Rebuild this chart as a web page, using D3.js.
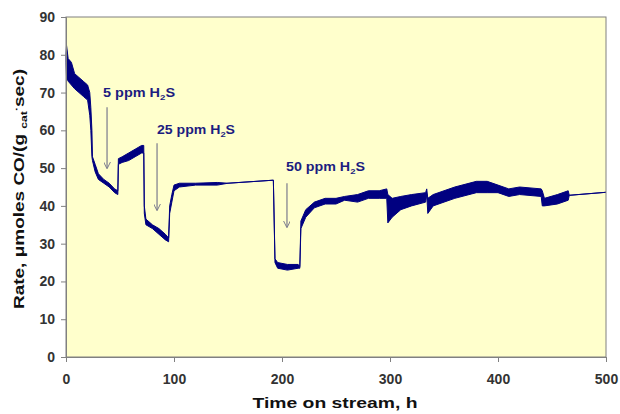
<!DOCTYPE html>
<html>
<head>
<meta charset="utf-8">
<script src="https://cdn.jsdelivr.net/npm/d3@7"></script>
<style>
  body { margin: 0; background: #fff; }
  svg { display: block; font-family: Arial, "Liberation Sans", sans-serif; }
</style>
</head>
<body>
<div id="chart"></div>
<script>
// time on stream (h), lower and upper edge of the noisy rate trace
const hours = [0, 0.5, 2, 5, 8, 12, 16, 20, 22, 23, 24, 24.5, 27, 30, 35, 40, 45, 48, 48.5, 52, 58, 64, 70, 72,
  72.5, 74, 80, 86, 92, 95, 96, 98, 100, 105, 120, 140, 150, 192, 193.5, 196, 205, 215, 216.5, 217.5, 222,
  230, 240, 250, 258, 270, 280, 290, 297, 298, 302, 310, 320, 333, 334, 335, 340, 360, 380, 390, 400, 410,
  420, 440, 441, 443, 455, 465, 466, 500];
const rateLow = [78, 74, 73, 72, 71, 70, 69, 68, 64, 60, 53, 52, 49, 47, 46, 45, 43.5, 43, 51, 51.5, 52, 53, 54, 54,
  38, 35, 34, 32.5, 31, 30.5, 38, 41, 44, 45, 45.5, 45.5, 46, 46.8, 25, 23.5, 23, 23.5, 23.5, 34, 37,
  39.5, 40.5, 40.5, 41.5, 41, 42, 42, 42, 35.5, 37, 39, 40, 41, 43, 38, 40, 42, 43.5, 43.5, 43.5, 42.5,
  43, 42.5, 40, 40, 40.5, 41.5, 42.8, 43.6];
const rateHigh = [80, 82.5, 79, 78, 75, 74, 73, 72, 70, 66, 60, 53, 51, 48.5, 47, 46, 44.5, 44, 52.5, 53, 54, 55, 56, 56,
  40, 36.5, 35, 34, 32.5, 31.5, 40, 43, 45.5, 46, 46, 46.2, 46, 46.8, 26, 25, 24.5, 24.5, 24, 36, 39,
  41, 42, 42, 42.5, 43, 44, 44, 44.5, 43, 42, 42.5, 43, 43.5, 44.5, 42, 43, 45, 46.5, 46.5, 45.5, 44.5,
  45, 44.5, 44, 42, 43, 44, 42.8, 43.6];

// H2S dosing annotations: arrow hour, arrow top, arrow tip, label baseline
const doseLabels = ["5 ppm H", "25 ppm H", "50 ppm H"];
const doseHours = [38, 84.3, 204.6];
const doseLabelHours = [34.3, 84.3, 203.7];
const arrowTop = [66.1, 56.6, 46];
const arrowTip = [50, 38.9, 34.4];
const labelBase = [68.8, 59, 49.2];

const xTicks = [0, 100, 200, 300, 400, 500];
const yTicks = [0, 10, 20, 30, 40, 50, 60, 70, 80, 90];

const width = 620, height = 414;
const margin = { top: 17, right: 14, bottom: 57, left: 66 };
const innerW = width - margin.left - margin.right;
const innerH = height - margin.top - margin.bottom;

const svg = d3.select("#chart").append("svg")
  .attr("width", width)
  .attr("height", height);

const defs = svg.append("defs");
defs.append("marker")
  .attr("id", "head")
  .attr("viewBox", "0 0 10 10")
  .attr("refX", 9).attr("refY", 5)
  .attr("markerWidth", 7).attr("markerHeight", 7)
  .attr("markerUnits", "userSpaceOnUse")
  .attr("orient", "auto")
  .append("path")
  .attr("d", "M0,0 L10,5 L0,10")
  .attr("fill", "none")
  .attr("stroke", "#7a7a8c")
  .attr("stroke-width", 1.4);

const g = svg.append("g").attr("transform", `translate(${margin.left},${margin.top})`);

const x = d3.scaleLinear().domain([0, 500]).range([0, innerW]);
const y = d3.scaleLinear().domain([0, 90]).range([innerH, 0]);

// plot area
g.append("rect")
  .attr("width", innerW).attr("height", innerH)
  .attr("fill", "#ffffcc");

// the trace as a band
const pts = hours.map((t, i) => ({ t, lo: rateLow[i], hi: rateHigh[i] }));
g.append("path")
  .datum(pts)
  .attr("d", d3.area().x(d => x(d.t)).y0(d => y(d.lo)).y1(d => y(d.hi)))
  .attr("fill", "#000080")
  .attr("stroke", "#000080")
  .attr("stroke-width", 1)
  .attr("stroke-linejoin", "round");

// border
g.append("rect")
  .attr("width", innerW).attr("height", innerH)
  .attr("fill", "none")
  .attr("stroke", "#808080")
  .attr("stroke-width", 1);

// axes
const xAxis = g.append("g")
  .attr("transform", `translate(0,${innerH})`)
  .call(d3.axisBottom(x).tickValues(xTicks).tickSize(5).tickPadding(12));
const yAxis = g.append("g")
  .call(d3.axisLeft(y).tickValues(yTicks).tickSize(5).tickPadding(6));
[xAxis, yAxis].forEach(a => {
  a.select(".domain").attr("stroke", "#808080");
  a.selectAll(".tick line").attr("stroke", "#808080");
  a.selectAll(".tick text")
    .attr("fill", "#333")
    .style("font-size", "14px")
    .style("font-weight", "bold");
});

// annotations
const labelWidths = [72, 78, 79];
doseLabels.forEach((lab, i) => {
  g.append("line")
    .attr("x1", x(doseHours[i])).attr("x2", x(doseHours[i]))
    .attr("y1", y(arrowTop[i])).attr("y2", y(arrowTip[i]))
    .attr("stroke", "#7a7a8c")
    .attr("stroke-width", 1.2)
    .attr("marker-end", "url(#head)");
  const t = g.append("text")
    .attr("x", x(doseLabelHours[i]))
    .attr("y", y(labelBase[i]))
    .attr("textLength", labelWidths[i])
    .attr("lengthAdjust", "spacingAndGlyphs")
    .attr("fill", "#1c1c80")
    .style("font-size", "12px")
    .style("font-weight", "bold");
  t.append("tspan").text(lab);
  t.append("tspan").text("2").style("font-size", "8px").attr("dy", 3);
  t.append("tspan").text("S").attr("dy", -3);
});

// axis titles
svg.append("text")
  .attr("x", margin.left + innerW / 2 - 1)
  .attr("y", 408)
  .attr("text-anchor", "middle")
  .attr("textLength", 165)
  .attr("lengthAdjust", "spacingAndGlyphs")
  .attr("fill", "#111")
  .style("font-size", "15px")
  .style("font-weight", "bold")
  .text("Time on stream, h");

const yt = svg.append("text")
  .attr("transform", "translate(24,189) rotate(-90)")
  .attr("text-anchor", "middle")
  .attr("textLength", 240)
  .attr("lengthAdjust", "spacingAndGlyphs")
  .attr("fill", "#111")
  .style("font-size", "14px")
  .style("font-weight", "bold");
yt.append("tspan").text("Rate, \u03bcmoles CO/(g ");
yt.append("tspan").text("cat").style("font-size", "9px").attr("dy", 3);
yt.append("tspan").text("\u00b7").style("font-size", "9px").attr("dy", -7);
yt.append("tspan").text("sec)").attr("dy", 4);
</script>
</body>
</html>
